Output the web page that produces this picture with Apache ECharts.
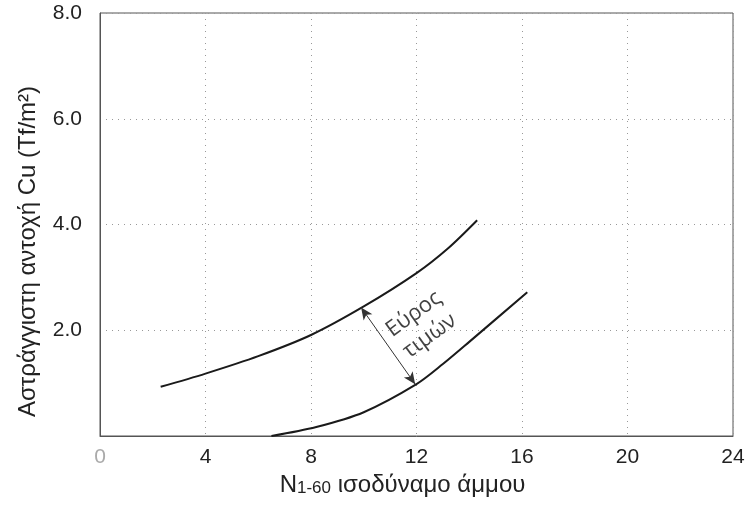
<!DOCTYPE html>
<html>
<head>
<meta charset="utf-8">
<script src="https://cdn.jsdelivr.net/npm/echarts@6/dist/echarts.min.js"></script>
<style>
  html, body { margin: 0; padding: 0; background: #fff; }
  #chart { width: 750px; height: 508px; }
</style>
</head>
<body>
<div id="chart"></div>
<script>
// curves: [N1-60, Cu]
const upperCurve = [[2.3, 0.93], [4, 1.18], [6, 1.51], [8, 1.91], [10, 2.45], [12, 3.08], [13.2, 3.55], [14.3, 4.08]];
const lowerCurve = [[6.5, 0], [8.2, 0.17], [10, 0.45], [12, 0.98], [13, 1.36], [14, 1.78], [16.2, 2.72]];

// double-headed arrow between the curves, and the text beside it
const arrowFrom = [9.9, 2.43];
const arrowTo = [11.95, 0.98];
const noteAt = [12.2, 2.1];
const noteText = "Εύρος\nτιμών";

const xTicks = [0, 4, 8, 12, 16, 20, 24];
const yTicks = [2, 4, 6, 8];

const chart = echarts.init(document.getElementById("chart"));

const curveStyle = { color: "#1a1a1a", width: 2 };

chart.setOption({
  animation: false,
  grid: {
    left: 100,
    right: 17,
    top: 13,
    bottom: 72,
    show: true,
    borderColor: "#555",
    borderWidth: 1,
  },
  xAxis: {
    type: "value",
    min: 0,
    max: 24,
    interval: 4,
    name: "{n|N}{s|1-60}{n| ισοδύναμο άμμου}",
    nameLocation: "middle",
    nameGap: 36,
    nameTextStyle: {
      padding: [0, 28, 0, 0],
      rich: {
        n: { fontFamily: "Liberation Sans", fontSize: 24, color: "#222" },
        s: { fontFamily: "Liberation Sans", fontSize: 17, color: "#222", verticalAlign: "bottom", padding: [7, 0, 0, 0] },
      },
    },
    axisLine: { show: true, lineStyle: { color: "#555" } },
    axisTick: { show: false },
    splitLine: { show: true, lineStyle: { color: "#999", type: [1, 5] } },
    axisLabel: {
      margin: 11,
      fontFamily: "Liberation Sans",
      fontSize: 21,
      color: "#222",
      formatter: (v) => (xTicks.includes(v) ? (v === 0 ? "{z|0}" : String(v)) : ""),
      rich: { z: { fontFamily: "Liberation Sans", fontSize: 21, color: "#aaa" } },
    },
  },
  yAxis: {
    type: "value",
    min: 0,
    max: 8,
    interval: 2,
    name: "Αστράγγιστη αντοχή Cu (Tf/m²)",
    nameLocation: "middle",
    nameGap: 60,
    nameRotate: 90,
    nameTextStyle: {
      fontFamily: "Liberation Sans",
      fontSize: 24,
      color: "#222",
      padding: [0, 54, 0, 0],
    },
    axisLine: { show: true, lineStyle: { color: "#555" } },
    axisTick: { show: false },
    splitLine: { show: true, lineStyle: { color: "#999", type: [1, 5] } },
    axisLabel: {
      margin: 18,
      fontFamily: "Liberation Sans",
      fontSize: 21,
      color: "#222",
      formatter: (v) => (yTicks.includes(v) ? v.toFixed(1) : ""),
    },
  },
  series: [
    {
      type: "line",
      data: upperCurve,
      smooth: 0.3,
      showSymbol: false,
      lineStyle: curveStyle,
      markLine: {
        silent: true,
        symbol: ["arrow", "arrow"],
        symbolSize: [8, 12],
        label: { show: false },
        lineStyle: { color: "#333", width: 1, type: "solid" },
        data: [[{ coord: arrowFrom }, { coord: arrowTo }]],
      },
    },
    {
      type: "line",
      data: lowerCurve,
      smooth: 0.3,
      showSymbol: false,
      lineStyle: curveStyle,
    },
    {
      type: "scatter",
      data: [noteAt],
      symbolSize: 0,
      silent: true,
      label: {
        show: true,
        position: "inside",
        rotate: 36,
        formatter: noteText,
        fontFamily: "Open Sans",
        fontSize: 22,
        lineHeight: 27,
        color: "#111",
      },
    },
  ],
});
</script>
</body>
</html>
